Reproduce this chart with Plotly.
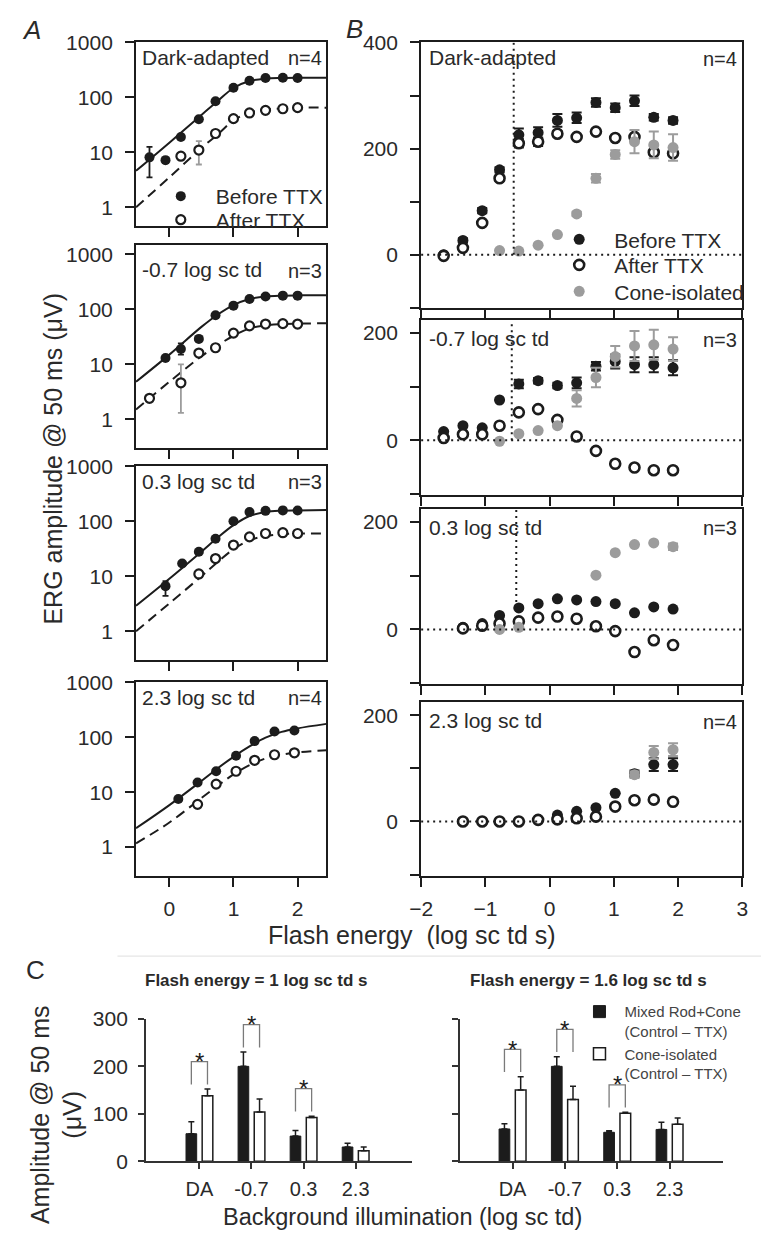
import plotly.graph_objects as go

# ======================= DATA =======================
# ---- Panel A : ERG amplitude (log) vs flash energy ----
a_labels = ["Dark-adapted", "-0.7 log sc td", "0.3 log sc td", "2.3 log sc td"]
a_n = ["n=4", "n=3", "n=3", "n=4"]
a_xticks = [0, 1, 2]
a_yticks = [1, 10, 100, 1000]

a_before_x = [
    [-0.31, -0.06, 0.18, 0.46, 0.72, 1.0, 1.25, 1.5, 1.77, 2.0],
    [-0.06, 0.18, 0.46, 0.72, 1.0, 1.25, 1.5, 1.77, 2.0],
    [-0.06, 0.2, 0.46, 0.72, 1.0, 1.25, 1.5, 1.77, 2.0],
    [0.14, 0.44, 0.73, 1.04, 1.33, 1.64, 1.95],
]
a_before_y = [
    [8.1, 7.2, 19, 40, 85, 150, 200, 225, 228, 225],
    [13, 19, 29, 78, 117, 155, 172, 178, 178],
    [6.6, 17, 28, 48, 100, 148, 155, 158, 157],
    [7.5, 15, 24, 46, 85, 127, 133],
]
a_before_err_up = [
    [4.5, 0, 0, 0, 0, 0, 0, 0, 0, 0],
    [0, 5, 0, 0, 0, 0, 0, 0, 0],
    [1.5, 0, 0, 0, 0, 0, 0, 0, 0],
    [0, 0, 0, 0, 0, 0, 0],
]
a_before_err_dn = [
    [4.6, 0, 0, 0, 0, 0, 0, 0, 0, 0],
    [0, 4, 0, 0, 0, 0, 0, 0, 0],
    [2.2, 0, 0, 0, 0, 0, 0, 0, 0],
    [0, 0, 0, 0, 0, 0, 0],
]
a_after_x = [
    [0.18, 0.46, 0.72, 1.0, 1.25, 1.5, 1.77, 2.0],
    [-0.31, 0.18, 0.46, 0.72, 1.0, 1.25, 1.5, 1.77, 2.0],
    [0.46, 0.72, 1.0, 1.25, 1.5, 1.77, 2.0],
    [0.44, 0.73, 1.04, 1.33, 1.64, 1.95],
]
a_after_y = [
    [8.5, 11, 22, 41, 52, 58, 62, 65],
    [2.4, 4.6, 16, 20, 37, 50, 54, 55, 54],
    [11, 21, 37, 52, 60, 62, 60],
    [6, 14, 24, 38, 48, 52],
]
a_after_err_up = [
    [1, 5, 0, 0, 0, 0, 0, 0],
    [0, 5.4, 0, 0, 0, 0, 0, 0, 0],
    [1.5, 0, 0, 0, 0, 0, 0],
    [0, 0, 0, 0, 0, 0],
]
a_after_err_dn = [
    [1, 5, 0, 0, 0, 0, 0, 0],
    [0, 3.3, 0, 0, 0, 0, 0, 0, 0],
    [1.5, 0, 0, 0, 0, 0, 0],
    [0, 0, 0, 0, 0, 0],
]
# fitted curves
a_fit_x = [-0.52, 0.0, 0.5, 0.75, 1.0, 1.25, 1.5, 1.75, 2.0, 2.45]
a_fit_before = [
    [4.6, 15, 48, 85, 148, 198, 220, 226, 228, 228],
    [4.8, 15, 48, 80, 120, 155, 172, 178, 180, 181],
    [2.9, 9, 28, 50, 85, 125, 148, 156, 158, 160],
    [2.2, 5.8, 16, 27, 44, 68, 98, 125, 145, 175],
]
a_fit_after = [
    [1.0, 3.5, 12, 21, 38, 53, 60, 63, 65, 65],
    [1.5, 4.8, 14, 22, 33, 45, 51, 54, 55, 56],
    [1.0, 3.2, 10, 18, 31, 45, 54, 58, 60, 60],
    [1.17, 2.8, 7.8, 13, 21, 31, 41, 48, 53, 58],
]

# ---- Panel B : linear amplitude ----
b_labels = ["Dark-adapted", "-0.7 log sc td", "0.3 log sc td", "2.3 log sc td"]
b_n = ["n=4", "n=3", "n=3", "n=4"]
b_xticks = [-2, -1, 0, 1, 2, 3]
b_x_all = [-1.65, -1.35, -1.05, -0.78, -0.48, -0.18, 0.12, 0.42, 0.72, 1.02, 1.32, 1.62, 1.92]
b_x_from_m135 = [-1.35, -1.05, -0.78, -0.48, -0.18, 0.12, 0.42, 0.72, 1.02, 1.32, 1.62, 1.92]
b_x_from_m078 = [-0.78, -0.48, -0.18, 0.12, 0.42, 0.72, 1.02, 1.32, 1.62, 1.92]

b_before_x = [b_x_all, b_x_all, b_x_from_m135, b_x_from_m135]
b_before_y = [
    [0, 27, 83, 160, 226, 230, 253, 258, 287, 277, 290, 259, 253],
    [16, 27, 23, 75, 105, 111, 102, 107, 138, 147, 141, 141, 135],
    [4, 11, 26, 40, 48, 57, 55, 52, 48, 31, 42, 38],
    [0, 0, 0, 0, 3, 12, 19, 26, 53, 90, 107, 107],
]
b_before_err = [
    [3, 4, 5, 5, 12, 10, 12, 10, 8, 8, 10, 6, 6],
    [0, 0, 0, 0, 8, 5, 5, 10, 8, 13, 14, 14, 14],
    [0, 0, 0, 0, 0, 0, 0, 0, 0, 0, 0, 0],
    [0, 0, 0, 0, 0, 0, 0, 0, 0, 6, 12, 12],
]
b_after_x = [b_x_all, b_x_all, b_x_from_m135, b_x_from_m135]
b_after_y = [
    [-2, 13, 60, 144, 210, 213, 228, 222, 232, 220, 222, 193, 191],
    [4, 11, 11, 27, 52, 58, 38, 7, -20, -44, -51, -56, -56],
    [2, 7, 11, 15, 22, 24, 20, 6, -3, -42, -20, -29],
    [0, 0, 0, 0, 3, 4, 6, 9, 28, 40, 41, 37],
]
b_after_err = [
    [3, 3, 4, 5, 8, 8, 5, 4, 4, 4, 4, 4, 4],
    [0] * 13,
    [0] * 12,
    [0] * 12,
]
b_cone_x = [
    b_x_from_m078,
    b_x_from_m078,
    [-0.78, -0.48, 0.72, 1.02, 1.32, 1.62, 1.92],
    [1.32, 1.62, 1.92],
]
b_cone_y = [
    [8, 7, 18, 38, 77, 144, 189, 213, 207, 202],
    [-2, 12, 18, 27, 78, 117, 156, 176, 178, 170],
    [0, 4, 101, 143, 158, 161, 154],
    [88, 130, 135],
]
b_cone_err = [
    [0, 0, 0, 0, 4, 8, 8, 22, 25, 25],
    [0, 0, 0, 0, 15, 18, 20, 28, 28, 22],
    [0, 0, 0, 0, 0, 0, 6],
    [6, 12, 12],
]
# rod/cone threshold (dotted vertical marker) per background
b_threshold_x = [-0.56, -0.59, -0.52, None]
b_threshold_ylow = [0, 0, 40, None]

# ---- Panel C : bar charts ----
c_categories = ["DA", "-0.7", "0.3", "2.3"]
c_titles = ["Flash energy = 1 log sc td s", "Flash energy = 1.6 log sc td s"]
c_yticks = [0, 100, 200, 300]
c_mixed = [[58, 200, 53, 30], [68, 200, 61, 67]]
c_mixed_err = [[25, 30, 12, 8], [11, 20, 3, 15]]
c_cone = [[138, 104, 92, 22], [150, 130, 101, 78]]
c_cone_err = [[14, 27, 3, 8], [28, 28, 2, 13]]
c_significant = [[True, True, True, False], [True, True, True, False]]

# ======================= FIGURE =======================
W, H = 767, 1237
FONT = "Arial, 'Liberation Sans', Helvetica, sans-serif"
INK = "#1c1c1c"
TXT = "#2a2a2a"
GRAY = "#9c9c9c"
BARGAP, BARGROUPGAP = 0.38, 0.34


def fx(p):
    return p / W


def fy(p):
    return 1 - p / H


def sfx(i):
    return "" if i == 1 else str(i)


fig = go.Figure()
annotations = []
shapes = []
layout = dict(
    width=W, height=H, margin=dict(l=0, r=0, t=0, b=0),
    paper_bgcolor="white", plot_bgcolor="white", showlegend=True,
    font=dict(family=FONT, color=TXT), bargap=BARGAP, bargroupgap=BARGROUPGAP,
)


def ann(text, xp, yp, size=21, xanchor="left", yanchor="middle", **kw):
    d = dict(text=text, x=fx(xp), y=fy(yp), xref="paper", yref="paper",
             xanchor=xanchor, yanchor=yanchor, showarrow=False,
             font=dict(size=size, color=TXT, family=FONT))
    d.update(kw)
    annotations.append(d)


box = dict(showline=True, linecolor=INK, linewidth=2, mirror=True, ticks="outside",
           ticklen=9, tickwidth=2, tickcolor=INK, showgrid=False, zeroline=False,
           tickfont=dict(size=21, color=TXT, family=FONT))

A_X = (127, 322)
A_ROWS = [(31, 218), (237, 444), (463, 660), (683, 880)]
A_YR = [[-0.34, 3.0], [-0.52, 3.18], [-0.52, 3.0], [-0.52, 3.0]]
B_X = (419, 748)
B_ROWS = [(31, 302), (314, 492), (506, 685), (703, 880)]
B_YR = [[-101, 400], [-102, 224], [-102, 225], [-102, 225]]


def err(up, dn=None, color=INK, width=3, thick=1.8):
    return dict(type="data", symmetric=False, array=up,
                arrayminus=(dn if dn is not None else up),
                color=color, width=width, thickness=thick)


# ----- Panel A -----
for r in range(4):
    i = r + 1
    xs, ys = "x" + sfx(i), "y" + sfx(i)
    layout["xaxis" + sfx(i)] = dict(box, domain=[fx(A_X[0]), fx(A_X[1])], range=[-0.52, 2.45],
                                    anchor=ys, tickvals=a_xticks, showticklabels=(r == 3),
                                    ticklabelstandoff=4)
    layout["yaxis" + sfx(i)] = dict(box, domain=[fy(A_ROWS[r][1]), fy(A_ROWS[r][0])], range=A_YR[r],
                                    type="log", anchor=xs, tickvals=a_yticks,
                                    ticktext=[str(v) for v in a_yticks], ticklabelstandoff=8)
    fig.add_trace(go.Scatter(x=a_fit_x, y=a_fit_before[r], mode="lines", xaxis=xs, yaxis=ys,
                             line=dict(color=INK, width=2, shape="spline"), showlegend=False,
                             hoverinfo="skip"))
    fig.add_trace(go.Scatter(x=a_fit_x, y=a_fit_after[r], mode="lines", xaxis=xs, yaxis=ys,
                             line=dict(color=INK, width=2, shape="spline", dash="10px,6px"),
                             showlegend=False, hoverinfo="skip"))
    fig.add_trace(go.Scatter(x=a_before_x[r], y=a_before_y[r], mode="markers", xaxis=xs, yaxis=ys,
                             marker=dict(size=10, color=INK, line=dict(width=0)),
                             error_y=err(a_before_err_up[r], a_before_err_dn[r]),
                             name="Before TTX", showlegend=(r == 0), legend="legend"))
    fig.add_trace(go.Scatter(x=a_after_x[r], y=a_after_y[r], mode="markers", xaxis=xs, yaxis=ys,
                             marker=dict(size=9, color="white", line=dict(width=2.2, color=INK)),
                             error_y=err(a_after_err_up[r], a_after_err_dn[r], color=GRAY),
                             name="After TTX", showlegend=(r == 0), legend="legend2"))
    ann(a_labels[r], 131, A_ROWS[r][0] + (15 if r != 1 else 25), size=21)
    ann(a_n[r], 320, A_ROWS[r][0] + (16 if r != 1 else 27), size=20, xanchor="right")

# ----- Panel B -----
for r in range(4):
    i = r + 5
    xs, ys = "x" + sfx(i), "y" + sfx(i)
    yt = [-100, 0, 100, 200] + ([300, 400] if r == 0 else [])
    layout["xaxis" + sfx(i)] = dict(box, domain=[fx(B_X[0]), fx(B_X[1])], range=[-2, 3],
                                    anchor=ys, tickvals=b_xticks, showticklabels=(r == 3),
                                    ticklabelstandoff=4)
    layout["yaxis" + sfx(i)] = dict(box, domain=[fy(B_ROWS[r][1]), fy(B_ROWS[r][0])], range=B_YR[r],
                                    anchor=xs, tickvals=yt,
                                    ticktext=[(str(v) if v in (0, 200, 400) else "") for v in yt],
                                    ticklabelstandoff=8)
    shapes.append(dict(type="line", xref=xs + " domain", yref=ys, x0=0, x1=1, y0=0, y1=0,
                       line=dict(color=INK, width=2, dash="2px,4px")))
    if b_threshold_x[r] is not None:
        shapes.append(dict(type="line", xref=xs, yref=ys, x0=b_threshold_x[r], x1=b_threshold_x[r],
                           y0=b_threshold_ylow[r], y1=B_YR[r][1],
                           line=dict(color=INK, width=2, dash="2px,4px")))
    fig.add_trace(go.Scatter(x=b_before_x[r], y=b_before_y[r], mode="markers", xaxis=xs, yaxis=ys,
                             marker=dict(size=11, color=INK, line=dict(width=0)),
                             error_y=err(b_before_err[r], width=5, thick=2),
                             name="Before TTX", showlegend=(r == 0), legend="legend3"))
    fig.add_trace(go.Scatter(x=b_after_x[r], y=b_after_y[r], mode="markers", xaxis=xs, yaxis=ys,
                             marker=dict(size=10, color="white", line=dict(width=2.6, color=INK)),
                             error_y=err(b_after_err[r], width=5, thick=2),
                             name="After TTX", showlegend=(r == 0), legend="legend4"))
    fig.add_trace(go.Scatter(x=b_cone_x[r], y=b_cone_y[r], mode="markers", xaxis=xs, yaxis=ys,
                             marker=dict(size=11, color=GRAY, line=dict(width=0)),
                             error_y=err(b_cone_err[r], color=GRAY, width=5, thick=2),
                             name="Cone-isolated", showlegend=(r == 0), legend="legend5"))
    ann(b_labels[r], 425, B_ROWS[r][0] + (15 if r == 0 else 19), size=21)
    ann(b_n[r], 744, B_ROWS[r][0] + (17 if r == 0 else 20), size=20, xanchor="right")

# ----- Panel C -----
c_ax = dict(showline=True, linecolor="#333333", linewidth=1.5, mirror=False, ticks="outside",
            ticklen=6, tickwidth=1.5, tickcolor="#333333", showgrid=False, zeroline=False,
            tickfont=dict(size=20, color=TXT, family=FONT))
C_X = [(137, 410), (459, 728)]
C_XR = [[-1.03, 4.09], [-1.0, 4.02]]
c_idx = list(range(len(c_categories)))
off = (1 - BARGAP) / 4
for k in range(2):
    i = 9 + k
    xs, ys = "x" + sfx(i), "y" + sfx(i)
    layout["xaxis" + sfx(i)] = dict(c_ax, domain=[fx(C_X[k][0]), fx(C_X[k][1])], range=C_XR[k],
                                    anchor=ys, tickvals=c_idx, ticktext=c_categories,
                                    ticklabelstandoff=3)
    layout["yaxis" + sfx(i)] = dict(c_ax, domain=[fy(1171), fy(1026)], range=[0, 300], anchor=xs,
                                    tickvals=c_yticks, showticklabels=(k == 0),
                                    tickfont=dict(size=21, color=TXT, family=FONT),
                                    ticklabelstandoff=6)
    fig.add_trace(go.Bar(x=c_idx, y=c_mixed[k], xaxis=xs, yaxis=ys,
                         marker=dict(color=INK, line=dict(color=INK, width=1)),
                         error_y=dict(type="data", symmetric=False, array=c_mixed_err[k],
                                      arrayminus=[0] * len(c_idx), color=INK, thickness=1.5, width=3),
                         name="Mixed Rod+Cone<br>(Control \u2013 TTX)", showlegend=(k == 0),
                         legend="legend6"))
    fig.add_trace(go.Bar(x=c_idx, y=c_cone[k], xaxis=xs, yaxis=ys,
                         marker=dict(color="white", line=dict(color=INK, width=1.5)),
                         error_y=dict(type="data", symmetric=False, array=c_cone_err[k],
                                      arrayminus=[0] * len(c_idx), color=INK, thickness=1.5, width=3),
                         name="Cone-isolated<br>(Control \u2013 TTX)", showlegend=(k == 0),
                         legend="legend7"))
    bx, by = [], []
    for j in c_idx:
        if not c_significant[k][j]:
            continue
        low = max(c_mixed[k][j] + c_mixed_err[k][j], c_cone[k][j] + c_cone_err[k][j]) + 10
        top = low + 48
        bx += [j - off, j - off, j + off, j + off, None]
        by += [low, top, top, low, None]
        annotations.append(dict(text="*", x=j, y=top, xref=xs, yref=ys, showarrow=False,
                                xanchor="center", yanchor="middle",
                                font=dict(size=24, color=INK, family=FONT)))
    fig.add_trace(go.Scatter(x=bx, y=by, mode="lines", xaxis=xs, yaxis=ys,
                             line=dict(color="#7a7a7a", width=1.3), showlegend=False,
                             hoverinfo="skip"))
    ann("<b>" + c_titles[k] + "</b>", [250, 590][k], 987, size=17, xanchor="center")

# separator line above panel C
shapes.append(dict(type="line", xref="paper", yref="paper", x0=fx(108), x1=1, y0=fy(962), y1=fy(962),
                   line=dict(color="#e6e6e6", width=1.2)))

# ----- titles, panel letters -----
ann("ERG amplitude @ 50 ms (\u03bcV)", 42, 455, size=25, xanchor="center", textangle=-90)
ann("Flash energy\u00a0 (log sc td s)", 410, 940, size=25, xanchor="center")
ann("Amplitude @ 50 ms<br>(\u03bcV)", 45, 1123, size=25, xanchor="center", textangle=-90)
ann("Background illumination (log sc td)", 400, 1228, size=23.5, xanchor="center")
ann("<i>A</i>", 8, 18, size=26)
ann("<i>B</i>", 340, 17, size=26)
ann("C", 12, 976, size=26)

# ----- legends -----
leg_common = dict(bgcolor="rgba(0,0,0,0)", borderwidth=0, xanchor="left", yanchor="middle",
                  itemwidth=60, tracegroupgap=0, itemclick=False, itemdoubleclick=False,
                  font=dict(size=21, color=TXT, family=FONT))
layout["legend"] = dict(leg_common, x=fx(172 - 35), y=fy(188))
layout["legend2"] = dict(leg_common, x=fx(172 - 35), y=fy(212))
layout["legend3"] = dict(leg_common, x=fx(580 - 35), y=fy(232))
layout["legend4"] = dict(leg_common, x=fx(580 - 35), y=fy(258))
layout["legend5"] = dict(leg_common, x=fx(580 - 35), y=fy(285))
leg_c = dict(leg_common, itemwidth=40, yanchor="top", valign="top",
             font=dict(size=15, color="#444444", family=FONT))
layout["legend6"] = dict(leg_c, x=fx(601 - 25), y=fy(1002))
layout["legend7"] = dict(leg_c, x=fx(601 - 25), y=fy(1045))

layout["annotations"] = annotations
layout["shapes"] = shapes
fig.update_layout(**layout)
fig.write_html("out.html")
